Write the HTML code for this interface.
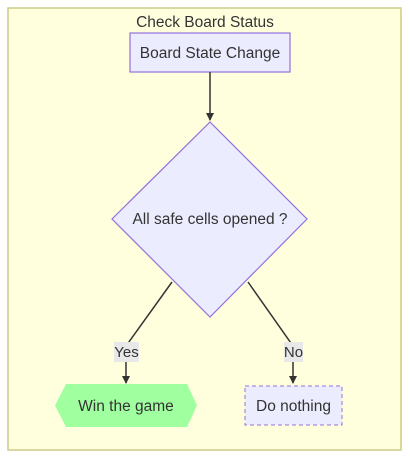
<!DOCTYPE html>
<html><head><style>body{margin:0;background:#fff}svg{display:block}text{font-family:"Liberation Sans",sans-serif;fill:#333}</style></head><body>
<svg width="410" height="458" viewBox="0 0 410 458">
<defs><marker id="a" markerWidth="8" markerHeight="8" refX="7" refY="4" orient="auto" markerUnits="userSpaceOnUse"><path d="M0,0L8,4L0,8z" fill="#333"/></marker></defs>
<rect x="8" y="8" width="393" height="442" fill="#ffffde" stroke="#cccc88" stroke-width="1.5"/>
<text x="205" y="27" font-size="15.5" text-anchor="middle">Check Board Status</text>
<rect x="130" y="33" width="160" height="39" fill="#ececff" stroke="#9370db" stroke-width="1.2"/>
<text x="210" y="58" font-size="15.5" text-anchor="middle">Board State Change</text>
<line x1="210" y1="72" x2="210" y2="120" stroke="#333" stroke-width="1.5" marker-end="url(#a)"/>
<polygon points="210,122 307,219 210,317 112,219" fill="#ececff" stroke="#9370db" stroke-width="1.2"/>
<text x="210" y="224" font-size="15.5" text-anchor="middle">All safe cells opened ?</text>
<polyline points="172,282 126,346 126,383" fill="none" stroke="#333" stroke-width="1.5" marker-end="url(#a)"/>
<polyline points="248,282 293,346 293,383" fill="none" stroke="#333" stroke-width="1.5" marker-end="url(#a)"/>
<rect x="114" y="342" width="25" height="20" fill="#e8e8e8"/>
<text x="126.5" y="357" font-size="15" text-anchor="middle">Yes</text>
<rect x="284" y="342" width="19" height="20" fill="#e8e8e8"/>
<text x="293.5" y="357" font-size="15" text-anchor="middle">No</text>
<polygon points="66,384 187,384 197,405.5 187,427 66,427 55,405.5" fill="#a0ff9f"/>
<text x="126" y="411" font-size="15.5" text-anchor="middle">Win the game</text>
<rect x="245" y="386" width="97" height="39" fill="#ececff" stroke="#9370db" stroke-width="1" stroke-dasharray="4,3"/>
<text x="293.5" y="411" font-size="15.5" text-anchor="middle">Do nothing</text>
</svg>
</body></html>
